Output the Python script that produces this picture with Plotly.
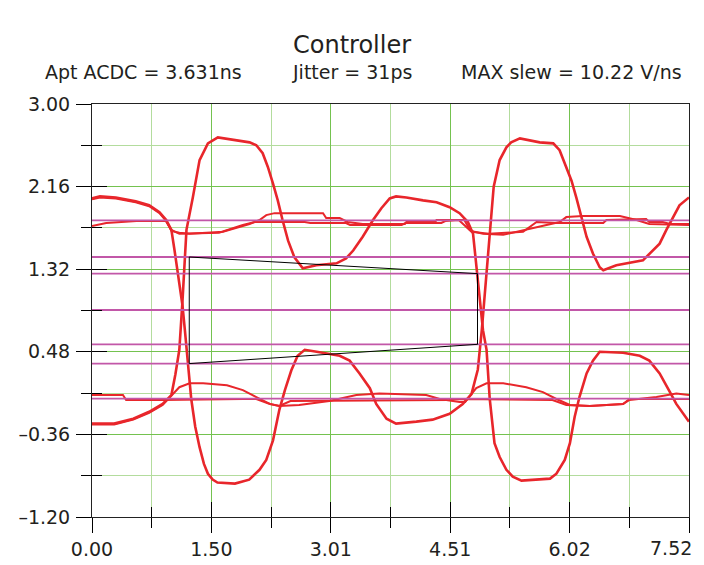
import plotly.graph_objects as go

# ---------------- data ----------------
x_tick_vals = [0.0, 1.504, 3.008, 4.512, 6.016, 7.52]
x_tick_text = ["0.00", "1.50", "3.01", "4.51", "6.02", "7.52"]
x_minor_vals = [0.752, 2.256, 3.76, 5.264, 6.768]
y_tick_vals = [-1.20, -0.36, 0.48, 1.32, 2.16, 3.00]
y_tick_text = ["\u20131.20", "\u20130.36", "0.48", "1.32", "2.16", "3.00"]
y_minor_vals = [-0.78, 0.06, 0.90, 1.74, 2.58]

# big-swing waveform 1 (starts high)
bs1_x = [0.00, 0.10, 0.30, 0.55, 0.72, 0.85, 0.935, 1.00, 1.04, 1.08, 1.11, 1.14, 1.17, 1.21, 1.25,
         1.30, 1.355, 1.41, 1.46, 1.52, 1.58, 1.80, 1.98, 2.11, 2.195, 2.28, 2.36, 2.43, 2.51, 2.59,
         2.68, 2.83, 3.12, 3.245, 3.37, 3.50, 3.58, 3.71, 3.83, 4.085, 4.29, 4.505, 4.67, 4.78,
         4.86, 4.91, 4.95, 4.99, 5.02, 5.06, 5.135, 5.22, 5.28, 5.39, 5.64, 5.81, 5.89, 5.955, 6.04,
         6.10, 6.165, 6.23, 6.31, 6.395, 6.44, 6.605, 6.94, 7.07, 7.15, 7.235, 7.32, 7.40, 7.52]
bs1_y = [2.04, 2.06, 2.05, 2.01, 1.97, 1.90, 1.82, 1.72, 1.51, 1.28, 1.10, 0.95, 0.70, 0.35, 0.00,
         -0.28, -0.49, -0.66, -0.76, -0.82, -0.85, -0.86, -0.82, -0.72, -0.62, -0.42, -0.11, 0.09, 0.29, 0.44,
         0.50, 0.48, 0.44, 0.39, 0.26, 0.11, -0.05, -0.20, -0.25, -0.23, -0.21, -0.15, -0.05, 0.05,
         0.30, 0.70, 1.10, 1.50, 1.85, 2.16, 2.43, 2.56, 2.61, 2.65, 2.61, 2.60, 2.53, 2.39, 2.22,
         2.05, 1.85, 1.65, 1.48, 1.34, 1.31, 1.36, 1.41, 1.51, 1.58, 1.72, 1.85, 1.97, 2.05]

# big-swing waveform 2 (starts low)
bs2_x = [0.00, 0.28, 0.52, 0.72, 0.89, 1.00, 1.05, 1.10, 1.14, 1.19, 1.27, 1.355, 1.46, 1.52, 1.585,
         1.985, 2.07, 2.15, 2.215, 2.28, 2.34, 2.40, 2.47, 2.55, 2.655, 2.825, 3.08, 3.20, 3.29,
         3.41, 3.54, 3.645, 3.75, 3.83, 3.96, 4.17, 4.34, 4.505, 4.63, 4.735, 4.80, 4.86, 4.925,
         4.97, 5.01, 5.07, 5.135, 5.22, 5.30, 5.41, 5.77, 5.85, 5.955, 6.02, 6.08, 6.14, 6.23, 6.31,
         6.395, 6.69, 6.90, 7.02, 7.15, 7.28, 7.36, 7.52]
bs2_y = [-0.25, -0.25, -0.20, -0.13, -0.05, 0.04, 0.25, 0.50, 1.00, 1.72, 2.05, 2.43, 2.60, 2.63, 2.66,
         2.61, 2.58, 2.50, 2.36, 2.19, 2.02, 1.82, 1.61, 1.44, 1.33, 1.36, 1.38, 1.43, 1.51,
         1.65, 1.82, 1.94, 2.04, 2.06, 2.05, 2.02, 2.00, 1.95, 1.89, 1.80, 1.68, 1.21, 0.70,
         0.50, 0.00, -0.45, -0.59, -0.72, -0.79, -0.83, -0.81, -0.76, -0.62, -0.45, -0.18, 0.02, 0.26, 0.39,
         0.48, 0.47, 0.44, 0.39, 0.26, 0.07, -0.05, -0.23]

# upper "flat" traces
ua_x = [0.00, 0.10, 0.30, 0.55, 0.72, 0.85, 0.935, 1.00, 1.10, 1.23, 1.65, 1.73, 1.86, 1.985, 2.11,
        2.195, 2.30, 2.91, 2.95, 3.12, 3.22, 3.41, 3.94, 3.96, 4.32, 4.34, 4.69, 4.76, 4.82, 4.925,
        5.18, 5.47, 5.64, 5.89, 5.975, 6.185, 6.65, 6.86, 7.02, 7.52]
ua_y = [2.03, 2.05, 2.04, 2.00, 1.96, 1.89, 1.81, 1.71, 1.69, 1.68, 1.70, 1.72, 1.75, 1.78, 1.82,
        1.87, 1.89, 1.89, 1.84, 1.84, 1.80, 1.78, 1.78, 1.80, 1.80, 1.82, 1.82, 1.72, 1.70, 1.68,
        1.67, 1.72, 1.75, 1.80, 1.85, 1.86, 1.86, 1.82, 1.78, 1.77]
ub_x = [0.00, 0.18, 0.56, 0.93, 1.00, 1.10, 1.60, 1.75, 1.90, 2.05, 2.68, 2.75, 3.20, 3.25, 3.90,
        3.95, 4.40, 4.45, 4.62, 4.78, 5.00, 5.43, 5.60, 5.85, 6.44, 6.48, 6.98, 7.02, 7.19, 7.28, 7.52]
ub_y = [1.76, 1.79, 1.81, 1.81, 1.72, 1.68, 1.69, 1.73, 1.77, 1.80, 1.80, 1.79, 1.79, 1.77, 1.77,
        1.79, 1.79, 1.81, 1.82, 1.70, 1.68, 1.70, 1.80, 1.79, 1.79, 1.82, 1.83, 1.80, 1.80, 1.78, 1.78]

# lower "flat" traces
la_x = [0.00, 0.28, 0.52, 0.72, 0.89, 1.00, 1.10, 1.23, 1.40, 1.70, 1.90, 2.07, 2.24, 2.36, 2.61,
        2.99, 3.12, 3.33, 3.62, 4.21, 4.38, 4.63, 4.70, 4.84, 4.97, 5.18, 5.47, 5.68, 5.85, 6.02,
        6.27, 6.69, 6.77, 7.11, 7.36, 7.52]
la_y = [-0.26, -0.26, -0.21, -0.14, -0.06, 0.03, 0.12, 0.16, 0.16, 0.14, 0.09, 0.02, -0.05, -0.07, -0.06,
        -0.02, 0.00, 0.04, 0.055, 0.04, 0.00, -0.03, -0.03, 0.11, 0.16, 0.16, 0.12, 0.07, 0.00, -0.06,
        -0.07, -0.05, -0.01, 0.02, 0.055, 0.04]
lb_x = [0.00, 0.39, 0.43, 0.89, 1.90, 2.07, 2.24, 2.36, 2.50, 4.50, 4.60, 5.80, 5.975, 6.27, 6.69,
        6.77, 7.52]
lb_y = [0.04, 0.04, -0.01, -0.01, 0.00, 0.00, -0.05, -0.07, -0.02, -0.01, 0.00, -0.01, -0.06, -0.07, -0.05,
        0.00, 0.00]

# threshold levels (magenta) and eye aperture
level_vals = [1.817, 1.444, 1.275, 0.905, 0.556, 0.360, 0.004]
eye_x = [1.225, 4.856, 4.856, 1.225, 1.225]
eye_y = [1.444, 1.275, 0.556, 0.360, 1.444]

title_text = "Controller"
sub_texts = ["Apt ACDC = 3.631ns", "Jitter = 31ps", "MAX slew = 10.22 V/ns"]

# ---------------- figure ----------------
RED = "#e8262b"
MAG = "#c257a8"
fig = go.Figure()

for xs, ys, w in [(ua_x, ua_y, 2), (ub_x, ub_y, 2), (la_x, la_y, 2), (lb_x, lb_y, 2),
                  (bs1_x, bs1_y, 2.6), (bs2_x, bs2_y, 2.6)]:
    fig.add_trace(go.Scatter(x=xs, y=ys, mode="lines", line=dict(color=RED, width=w),
                             showlegend=False, hoverinfo="skip"))

for lv in level_vals:
    fig.add_trace(go.Scatter(x=[x_tick_vals[0], x_tick_vals[-1]], y=[lv, lv], mode="lines",
                             line=dict(color=MAG, width=1.8), xaxis="x2", yaxis="y2",
                             showlegend=False, hoverinfo="skip"))

fig.add_trace(go.Scatter(x=eye_x, y=eye_y, mode="lines", line=dict(color="black", width=1),
                         xaxis="x2", yaxis="y2", showlegend=False, hoverinfo="skip"))

FONT = "DejaVu Sans"
TXT = "#231f20"
tickfont = dict(family=FONT, size=19, color=TXT)
common_x = dict(range=[0, 7.52], tickmode="array", tickvals=x_tick_vals, zeroline=False, automargin=False)
common_y = dict(range=[-1.2, 3.0], tickmode="array", tickvals=y_tick_vals, zeroline=False, automargin=False)

# last x label is drawn right-aligned at its tick so that it stays inside the picture
x_axis_text = x_tick_text[:-1] + [""]

# the page body adds an 8px offset; the figure size/margins compensate for it
fig.update_layout(
    width=696, height=557,
    margin=dict(l=84, r=15, t=96, b=48, autoexpand=False),
    paper_bgcolor="white", plot_bgcolor="white",
    xaxis=dict(**common_x, ticktext=x_axis_text, ticks="outside", ticklen=15, tickcolor="black",
               tickwidth=1, tickfont=tickfont, showgrid=True, gridcolor="#74c24f", gridwidth=1,
               showline=True, linecolor="#222", linewidth=1, mirror=True,
               minor=dict(tickmode="array", tickvals=x_minor_vals, ticks="outside", ticklen=10,
                          tickcolor="black", showgrid=True, gridcolor="#b3dc9d", gridwidth=1)),
    yaxis=dict(**common_y, ticktext=y_tick_text, ticks="outside", ticklen=15, tickcolor="black",
               tickwidth=1, tickfont=tickfont, showgrid=True, gridcolor="#74c24f", gridwidth=1,
               showline=True, linecolor="#222", linewidth=1, mirror=True, ticklabelstandoff=2,
               ticklabeloverflow="allow",
               minor=dict(tickmode="array", tickvals=y_minor_vals, ticks="outside", ticklen=10,
                          tickcolor="black", showgrid=True, gridcolor="#b3dc9d", gridwidth=1)),
    xaxis2=dict(**common_x, overlaying="x", anchor="y2", side="bottom", ticks="inside", ticklen=15,
                tickcolor="black", showticklabels=False, showgrid=False, showline=False,
                minor=dict(tickmode="array", tickvals=x_minor_vals, ticks="inside", ticklen=10,
                           tickcolor="black", showgrid=False)),
    yaxis2=dict(**common_y, overlaying="y", anchor="x2", side="left", ticks="inside", ticklen=15,
                tickcolor="black", showticklabels=False, showgrid=False, showline=False,
                minor=dict(tickmode="array", tickvals=y_minor_vals, ticks="inside", ticklen=10,
                           tickcolor="black", showgrid=False)),
    annotations=[
        dict(text=title_text, x=0.435, y=1.142, xref="paper", yref="paper", showarrow=False,
             xanchor="center", yanchor="middle", font=dict(family=FONT, size=24, color=TXT)),
        dict(text=sub_texts[0], x=0.086, y=1.077, xref="paper", yref="paper", showarrow=False,
             xanchor="center", yanchor="middle", font=dict(family=FONT, size=19, color=TXT)),
        dict(text=sub_texts[1], x=0.435, y=1.077, xref="paper", yref="paper", showarrow=False,
             xanchor="center", yanchor="middle", font=dict(family=FONT, size=19, color=TXT)),
        dict(text=sub_texts[2], x=0.803, y=1.077, xref="paper", yref="paper", showarrow=False,
             xanchor="center", yanchor="middle", font=dict(family=FONT, size=19, color=TXT)),
        dict(text=x_tick_text[-1], x=x_tick_vals[-1], y=-0.075, xref="x", yref="paper",
             showarrow=False, xanchor="right", yanchor="middle", xshift=5,
             font=tickfont),
    ],
)

fig.write_html("out.html")
